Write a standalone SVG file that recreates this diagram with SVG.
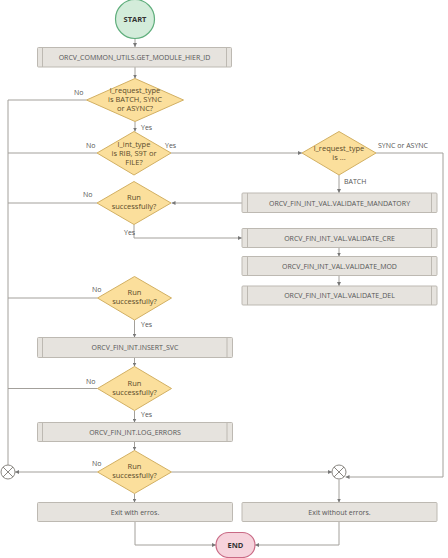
<svg xmlns="http://www.w3.org/2000/svg" width="448" height="558" viewBox="0 0 448 558">
<defs>
<marker id="arr" viewBox="0 0 6 6" refX="6" refY="3" markerWidth="4" markerHeight="4" orient="auto" markerUnits="userSpaceOnUse">
<path d="M0,0 L6,3 L0,6 z" fill="#777"/>
</marker>
</defs>
<style>
.box{fill:#e6e3de;stroke:#bdb9b2;stroke-width:1}
.sub{stroke:#bdb9b2;stroke-width:1}
.dia{fill:#fbdf9c;stroke:#d2b063;stroke-width:1}
.t{font-family:"Open Sans","Liberation Sans",sans-serif;font-size:7px;fill:#555;text-anchor:middle}
.lb{font-family:"Open Sans","Liberation Sans",sans-serif;font-size:7px;fill:#555}
.dt{font-family:"Open Sans","Liberation Sans",sans-serif;font-size:7.5px;fill:#5a4a2a;text-anchor:middle}
.b{font-family:"Open Sans","Liberation Sans",sans-serif;font-size:7.5px;font-weight:bold;fill:#333;text-anchor:middle}
.ln{fill:none;stroke:#a3a09b;stroke-width:1}
.a{marker-end:url(#arr)}
.x{fill:#fff;stroke:#8a8782;stroke-width:1}
</style>
<rect width="448" height="558" fill="#fff"/>

<g id="connectors">
<path class="ln a" d="M135,38.5 V47"/>
<path class="ln a" d="M135,67 V78.5"/>
<path class="ln a" d="M135,121.5 V131.5"/>
<path class="ln a" d="M171,153 H302"/>
<path class="ln a" d="M339,175 V193"/>
<path class="ln a" d="M242,203 H171.5"/>
<path class="ln a" d="M134,224.5 V238 H242"/>
<path class="ln a" d="M339,247.5 V256.5"/>
<path class="ln a" d="M339,275.5 V286"/>
<path class="ln" d="M86.5,100 H8 V465"/>
<path class="ln" d="M97,153 H8"/>
<path class="ln" d="M97,203 H8"/>
<path class="ln" d="M97.5,298 H8"/>
<path class="ln" d="M97.5,388.5 H8"/>
<path class="ln" d="M376,153 H443 V477 H345.5" style="marker-end:url(#arr)"/>
<path class="ln a" d="M134.5,320 V337.5"/>
<path class="ln a" d="M134.5,357.5 V366.5"/>
<path class="ln a" d="M134.5,410.5 V422.5"/>
<path class="ln a" d="M134.5,441.5 V450.5"/>
<path class="ln a" d="M97.5,472 H15"/>
<path class="ln a" d="M171.5,472 H332"/>
<path class="ln a" d="M134.5,493.5 V502.5"/>
<path class="ln a" d="M339,479.5 V502.5"/>
<path class="ln a" d="M135,521.5 V545 H216"/>
<path class="ln a" d="M339,521.5 V545 H255"/>
</g>

<g id="start">
<circle cx="135" cy="19" r="19.5" fill="#d3ecda" stroke="#5fae7c" stroke-width="1.2"/>
<text class="b" x="135" y="21.8">START</text>
</g>

<g id="get_module_hier_id">
<rect class="box" x="37.5" y="47.5" width="194" height="19.5" rx="1"/>
<line class="sub" x1="42.5" y1="47.5" x2="42.5" y2="67"/>
<line class="sub" x1="226.5" y1="47.5" x2="226.5" y2="67"/>
<text class="t" x="134.5" y="59.8">ORCV_COMMON_UTILS.GET_MODULE_HIER_ID</text>
</g>

<g id="d_request_type">
<polygon class="dia" points="135,78.5 183.5,100 135,121.5 86.5,100"/>
<text class="dt" x="135" y="93">l_request_type</text>
<text class="dt" x="135" y="102">is BATCH, SYNC</text>
<text class="dt" x="135" y="111">or ASYNC?</text>
<text class="lb" x="74" y="95">No</text>
<text class="lb" x="141" y="130">Yes</text>
</g>

<g id="d_int_type">
<polygon class="dia" points="134,131.5 171,153 134,175 97,153"/>
<text class="dt" x="134" y="147">l_int_type</text>
<text class="dt" x="134" y="156">is RIB, S9T or</text>
<text class="dt" x="134" y="165">FILE?</text>
<text class="lb" x="86" y="148">No</text>
<text class="lb" x="165" y="148">Yes</text>
</g>

<g id="d_request_type2">
<polygon class="dia" points="339,131.5 376,153 339,175 302,153"/>
<text class="dt" x="339" y="151">l_request_type</text>
<text class="dt" x="339" y="160">is ...</text>
<text class="lb" x="378" y="148">SYNC or ASYNC</text>
<text class="lb" x="344" y="184">BATCH</text>
</g>

<g id="validate_mandatory">
<rect class="box" x="242" y="193" width="195" height="19.5" rx="1"/>
<line class="sub" x1="247.5" y1="193" x2="247.5" y2="212.5"/>
<line class="sub" x1="431.5" y1="193" x2="431.5" y2="212.5"/>
<text class="t" x="339.5" y="205.5">ORCV_FIN_INT_VAL.VALIDATE_MANDATORY</text>
</g>

<g id="d_run1">
<polygon class="dia" points="134,181.5 171,203 134,224.5 97,203"/>
<text class="dt" x="134" y="200">Run</text>
<text class="dt" x="134" y="209">successfully?</text>
<text class="lb" x="83" y="197">No</text>
<text class="lb" x="124" y="235">Yes</text>
</g>

<g id="validate_cre">
<rect class="box" x="242" y="228.5" width="195" height="19" rx="1"/>
<line class="sub" x1="247.5" y1="228.5" x2="247.5" y2="247.5"/>
<line class="sub" x1="431.5" y1="228.5" x2="431.5" y2="247.5"/>
<text class="t" x="339.5" y="240.5">ORCV_FIN_INT_VAL.VALIDATE_CRE</text>
</g>

<g id="validate_mod">
<rect class="box" x="242" y="256.5" width="195" height="19" rx="1"/>
<line class="sub" x1="247.5" y1="256.5" x2="247.5" y2="275.5"/>
<line class="sub" x1="431.5" y1="256.5" x2="431.5" y2="275.5"/>
<text class="t" x="339.5" y="268.5">ORCV_FIN_INT_VAL.VALIDATE_MOD</text>
</g>

<g id="validate_del">
<rect class="box" x="242" y="286" width="195" height="19" rx="1"/>
<line class="sub" x1="247.5" y1="286" x2="247.5" y2="305"/>
<line class="sub" x1="431.5" y1="286" x2="431.5" y2="305"/>
<text class="t" x="339.5" y="298">ORCV_FIN_INT_VAL.VALIDATE_DEL</text>
</g>

<g id="d_run2">
<polygon class="dia" points="134.5,276.5 171.5,298 134.5,320 97.5,298"/>
<text class="dt" x="134.5" y="295">Run</text>
<text class="dt" x="134.5" y="304">successfully?</text>
<text class="lb" x="92" y="292">No</text>
<text class="lb" x="141" y="327">Yes</text>
</g>

<g id="insert_svc">
<rect class="box" x="37.5" y="337.5" width="195" height="20" rx="1"/>
<line class="sub" x1="42.5" y1="337.5" x2="42.5" y2="357.5"/>
<line class="sub" x1="227" y1="337.5" x2="227" y2="357.5"/>
<text class="t" x="135" y="350">ORCV_FIN_INT.INSERT_SVC</text>
</g>

<g id="d_run3">
<polygon class="dia" points="134.5,366.5 171.5,388.5 134.5,410.5 97.5,388.5"/>
<text class="dt" x="134.5" y="385.5">Run</text>
<text class="dt" x="134.5" y="394.5">successfully?</text>
<text class="lb" x="86" y="384">No</text>
<text class="lb" x="141" y="417">Yes</text>
</g>

<g id="log_errors">
<rect class="box" x="37.5" y="422.5" width="195" height="19" rx="1"/>
<line class="sub" x1="42.5" y1="422.5" x2="42.5" y2="441.5"/>
<line class="sub" x1="227" y1="422.5" x2="227" y2="441.5"/>
<text class="t" x="135" y="434.5">ORCV_FIN_INT.LOG_ERRORS</text>
</g>

<g id="d_run4">
<polygon class="dia" points="134.5,450.5 171.5,472 134.5,493.5 97.5,472"/>
<text class="dt" x="134.5" y="469">Run</text>
<text class="dt" x="134.5" y="478">successfully?</text>
<text class="lb" x="92" y="466">No</text>
</g>

<g id="merge_left">
<circle class="x" cx="8" cy="472" r="7"/>
<path d="M3,467 L13,477 M13,467 L3,477" stroke="#8a8782" stroke-width="1"/>
</g>

<g id="merge_right">
<circle class="x" cx="339" cy="472" r="7"/>
<path d="M334,467 L344,477 M344,467 L334,477" stroke="#8a8782" stroke-width="1"/>
</g>

<g id="exit_errors">
<rect class="box" x="37.5" y="502.5" width="195" height="19" rx="1"/>
<text class="t" x="135" y="514.5">Exit with erros.</text>
</g>

<g id="exit_ok">
<rect class="box" x="242" y="502.5" width="195" height="19" rx="1"/>
<text class="t" x="339.5" y="514.5">Exit without errors.</text>
</g>

<g id="end">
<rect x="216" y="532.5" width="39" height="25" rx="12.5" fill="#f6d3dc" stroke="#c96a85" stroke-width="1.2"/>
<text class="b" x="235.5" y="547.8">END</text>
</g>
</svg>
